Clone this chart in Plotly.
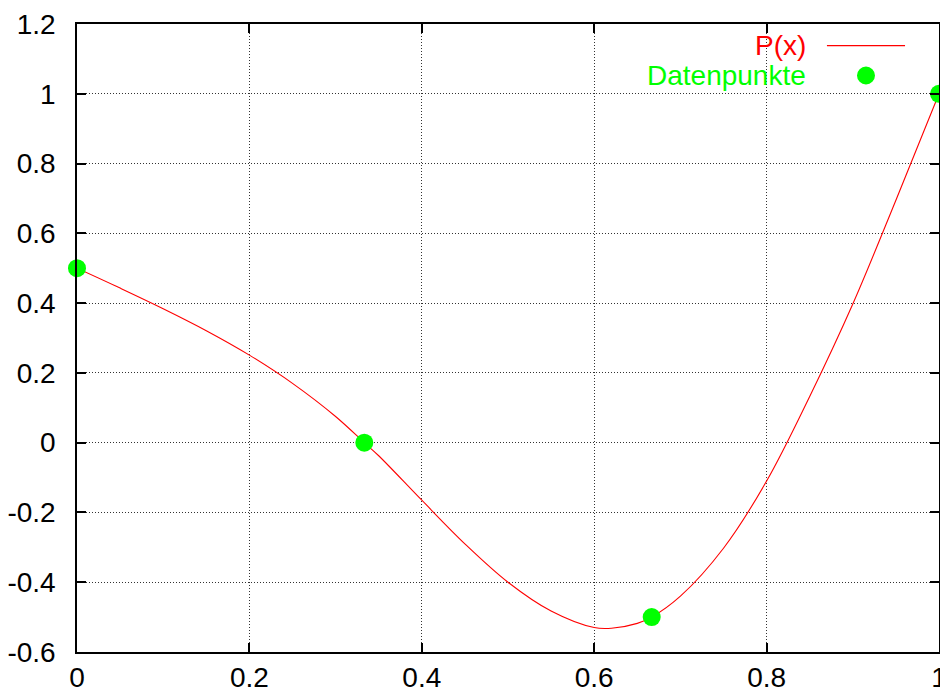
import plotly.graph_objects as go

# Curve P(x)
curve_x = [0.0, 0.05, 0.1, 0.15, 0.2, 0.25, 0.3, 0.3333, 0.35, 0.4, 0.45, 0.5, 0.55,
           0.6, 0.62, 0.65, 0.6667, 0.7, 0.75, 0.8, 0.85, 0.9, 0.95, 1.0]
curve_y = [0.5, 0.443, 0.384, 0.321, 0.251, 0.170, 0.075, 0.0, -0.0375, -0.165, -0.29,
           -0.40, -0.4825, -0.53, -0.532, -0.518, -0.5, -0.44, -0.3025, -0.11, 0.1325,
           0.3975, 0.695, 1.0]

# Data points
pts_x = [0.0, 0.3333, 0.6667, 1.0]
pts_y = [0.5, 0.0, -0.5, 1.0]

x_tickvals = [0, 0.2, 0.4, 0.6, 0.8, 1]
x_ticktext = ["0", "0.2", "0.4", "0.6", "0.8", "1"]
y_tickvals = [-0.6, -0.4, -0.2, 0, 0.2, 0.4, 0.6, 0.8, 1, 1.2]
y_ticktext = ["-0.6", "-0.4", "-0.2", "0", "0.2", "0.4", "0.6", "0.8", "1", "1.2"]

legend_labels = ["P(x)", "Datenpunkte"]

RED = "#ff0000"
GREEN = "#00ff00"
FONT = "Liberation Sans, Arial, Helvetica, sans-serif"
FS = 28

fig = go.Figure()
fig.add_trace(go.Scatter(x=curve_x, y=curve_y, mode="lines", name=legend_labels[0],
                         line=dict(color=RED, width=1.1, shape="spline", smoothing=1.0),
                         showlegend=False))
fig.add_trace(go.Scatter(x=pts_x, y=pts_y, mode="markers", name=legend_labels[1],
                         marker=dict(color=GREEN, size=18, line=dict(width=0)),
                         cliponaxis=False, showlegend=False))

axis_common = dict(
    showline=True, linecolor="black", linewidth=1.5, mirror="allticks",
    ticks="inside", ticklen=9, tickwidth=1.5, tickcolor="black",
    showgrid=True, gridcolor="#333333", gridwidth=1, griddash="1px,2px",
    zeroline=False, tickfont=dict(family=FONT, size=FS, color="black"),
    tickmode="array", automargin=False,
)

fig.update_xaxes(range=[0, 1], tickvals=x_tickvals, ticktext=x_ticktext,
                 ticklabelstandoff=0, **axis_common)
fig.update_yaxes(range=[-0.6, 1.2], tickvals=y_tickvals, ticktext=y_ticktext,
                 ticklabelstandoff=14, **axis_common)

# gnuplot-style legend (text, then sample to the right)
lx_text = 0.848
ly1, ly2 = 0.9657, 0.918
annotations = [
    dict(x=lx_text, y=ly1, xref="paper", yref="paper", text=legend_labels[0],
         showarrow=False, xanchor="right", yanchor="middle",
         font=dict(family=FONT, size=FS, color=RED)),
    dict(x=lx_text, y=ly2, xref="paper", yref="paper", text=legend_labels[1],
         showarrow=False, xanchor="right", yanchor="middle",
         font=dict(family=FONT, size=FS, color=GREEN)),
]
rx, ry = 9 / 862, 9 / 627.5
shapes = [
    dict(type="line", xref="paper", yref="paper", x0=0.870, x1=0.9606, y0=ly1, y1=ly1,
         line=dict(color=RED, width=1.2)),
    dict(type="circle", xref="paper", yref="paper",
         x0=0.9153 - rx, x1=0.9153 + rx, y0=ly2 - ry, y1=ly2 + ry,
         fillcolor=GREEN, line=dict(width=0)),
]

# the page body adds an 8px margin, so the figure is 8px smaller on each used side
fig.update_layout(
    width=940, height=686,
    margin=dict(l=69, r=9, t=16, b=42),
    paper_bgcolor="white", plot_bgcolor="white",
    showlegend=False,
    annotations=annotations, shapes=shapes,
    font=dict(family=FONT),
)

fig.write_html("out.html")
